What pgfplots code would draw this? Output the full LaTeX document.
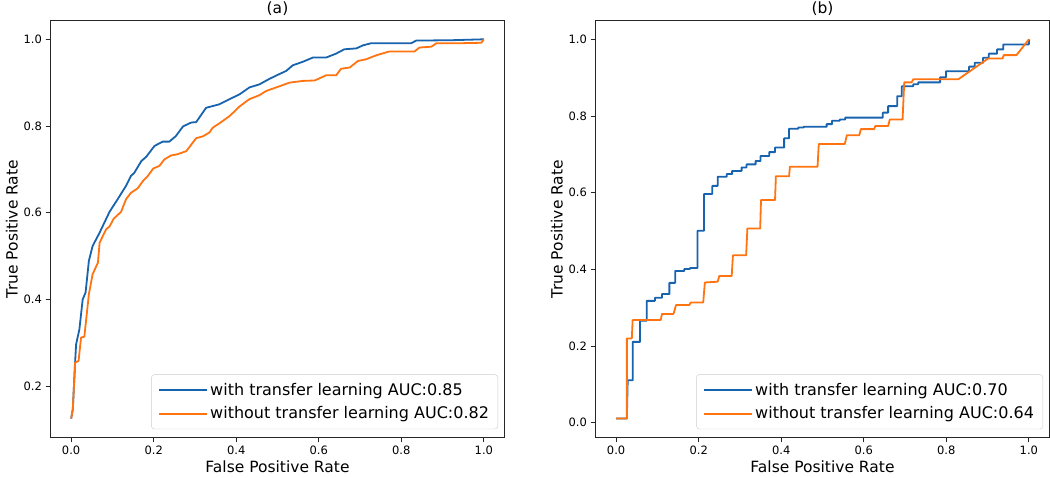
\documentclass[border=0pt]{standalone}
\usepackage{pgfplots}
\pgfplotsset{compat=1.18}
\usepackage{fontspec}
\setmainfont{DejaVu Sans}
\definecolor{mblue}{HTML}{1763AE}
\definecolor{morange}{HTML}{FF7410}
\pgfplotsset{
  rocaxis/.style={
    scale only axis, anchor=south west,
    width=454pt, height=417pt,
    xmin=-0.05, xmax=1.05,
    xtick={0,0.2,0.4,0.6,0.8,1.0},
    tick pos=left, tick align=outside,
    major tick length=5pt,
    major tick style={black!85, line width=0.9pt},
    axis line style={black!85, line width=0.9pt},
    /pgf/number format/assume math mode=true,
    /pgf/number format/.cd, fixed, fixed zerofill, precision=1, /pgfplots/.cd,
    tick label style={font=\fontsize{11.5}{13}\selectfont},
    label style={font=\fontsize{15.5}{18}\selectfont},
    xlabel={False Positive Rate},
    ylabel={True Positive Rate},
    xlabel style={yshift=1pt},
    ylabel style={yshift=-1pt},
    title style={font=\fontsize{15.5}{18}\selectfont, at={(0.5,1)}, anchor=south, yshift=-3.5pt, inner sep=2pt},
    legend cell align=left,
    legend image code/.code={\draw[##1, line width=1.8pt, line cap=butt] (0pt,0pt) -- (38pt,0pt); \path (0pt,0pt) -- (48pt,0pt);},
    legend style={font=\fontsize{16}{19}\selectfont, draw=black!20, rounded corners=3pt,
      at={(0.986,0.02)}, anchor=south east, inner xsep=7pt, inner ysep=6.5pt, row sep=6pt},
  }
}
\begin{document}
\begin{tikzpicture}
\useasboundingbox (0,0) rectangle (1050pt,478pt);
\begin{axis}[rocaxis, at={(50.5pt,40.5pt)},
  ymin=0.0814, ymax=1.0434, ytick={0.2,0.4,0.6,0.8,1.0}, title={(a)}]
\addplot[draw=mblue, line width=1.8pt, line join=round] coordinates {
(0,0.125)(0.004,0.146)(0.0097,0.256)(0.012,0.296)(0.020,0.331)(0.028,0.40)(0.035,0.416)
(0.043,0.489)(0.052,0.523)(0.069,0.554)(0.081,0.578)(0.093,0.602)(0.110,0.627)(0.133,0.662)
(0.145,0.685)(0.153,0.692)(0.170,0.719)(0.182,0.729)(0.202,0.754)(0.222,0.764)(0.238,0.764)
(0.254,0.777)(0.271,0.799)(0.291,0.808)(0.303,0.809)(0.327,0.842)(0.339,0.845)(0.359,0.850)
(0.384,0.862)(0.408,0.873)(0.432,0.889)(0.456,0.896)(0.481,0.909)(0.505,0.920)(0.521,0.927)
(0.537,0.940)(0.561,0.948)(0.586,0.958)(0.618,0.958)(0.642,0.967)(0.662,0.977)(0.691,0.979)
(0.707,0.986)(0.727,0.991)(0.824,0.991)(0.836,0.997)(0.925,0.998)(1.0,1.0)
};
\addlegendentry{with transfer learning AUC:0.85}
\addplot[draw=morange, line width=1.8pt, line join=round] coordinates {
(0,0.125)(0.004,0.146)(0.0097,0.254)(0.018,0.258)(0.024,0.312)(0.032,0.314)(0.043,0.412)
(0.052,0.458)(0.065,0.485)(0.069,0.531)(0.085,0.562)(0.093,0.568)(0.103,0.586)(0.121,0.602)
(0.133,0.631)(0.145,0.646)(0.161,0.656)(0.174,0.673)(0.186,0.685)(0.199,0.702)(0.214,0.708)
(0.226,0.723)(0.242,0.732)(0.258,0.735)(0.279,0.742)(0.303,0.772)(0.319,0.776)(0.335,0.785)
(0.343,0.796)(0.359,0.806)(0.384,0.823)(0.408,0.845)(0.432,0.862)(0.456,0.871)(0.473,0.881)
(0.497,0.889)(0.529,0.900)(0.561,0.904)(0.590,0.905)(0.618,0.917)(0.642,0.917)(0.654,0.932)
(0.675,0.935)(0.695,0.950)(0.715,0.954)(0.739,0.963)(0.771,0.972)(0.832,0.972)(0.844,0.981)
(0.873,0.983)(0.885,0.991)(0.945,0.991)(0.994,0.992)(1.0,1.0)
};
\addlegendentry{without transfer learning AUC:0.82}
\end{axis}
\begin{axis}[rocaxis, at={(595.5pt,40.5pt)},
  ymin=-0.0384, ymax=1.0494, ytick={0,0.2,0.4,0.6,0.8,1.0}, title={(b)}]
\addplot[draw=mblue, line width=1.8pt, line join=round] coordinates {
(0,0.011)(0.026,0.011)(0.028,0.111)(0.040,0.111)(0.040,0.211)(0.058,0.211)(0.058,0.266)
(0.074,0.266)(0.074,0.318)(0.094,0.318)(0.094,0.326)(0.111,0.326)(0.111,0.336)(0.129,0.336)
(0.129,0.365)(0.143,0.365)(0.143,0.396)(0.165,0.396)(0.165,0.401)(0.179,0.401)(0.179,0.404)
(0.197,0.404)(0.197,0.501)(0.213,0.501)(0.213,0.597)(0.233,0.597)(0.233,0.618)(0.246,0.618)
(0.246,0.642)(0.268,0.642)(0.268,0.649)(0.281,0.649)(0.281,0.657)(0.304,0.657)(0.304,0.666)
(0.316,0.666)(0.316,0.674)(0.338,0.674)(0.338,0.683)(0.350,0.683)(0.350,0.696)(0.371,0.696)
(0.371,0.706)(0.385,0.706)(0.385,0.718)(0.407,0.718)(0.407,0.742)(0.419,0.742)(0.419,0.767)
(0.441,0.767)(0.441,0.770)(0.454,0.770)(0.454,0.772)(0.510,0.772)(0.510,0.779)(0.523,0.779)
(0.523,0.788)(0.542,0.788)(0.542,0.791)(0.555,0.791)(0.555,0.796)(0.646,0.796)(0.646,0.809)
(0.659,0.809)(0.659,0.826)(0.681,0.826)(0.681,0.852)(0.692,0.852)(0.692,0.878)(0.720,0.878)
(0.720,0.883)(0.732,0.883)(0.732,0.888)(0.785,0.888)(0.785,0.901)(0.799,0.901)(0.799,0.917)
(0.855,0.917)(0.855,0.929)(0.869,0.929)(0.869,0.939)(0.889,0.939)(0.889,0.952)(0.903,0.952)
(0.903,0.963)(0.923,0.963)(0.923,0.974)(0.938,0.974)(0.938,0.987)(1.0,0.987)(1.0,1.0)
};
\addlegendentry{with transfer learning AUC:0.70}
\addplot[draw=morange, line width=1.8pt, line join=round] coordinates {
(0,0.011)(0.026,0.011)(0.026,0.220)(0.038,0.220)(0.040,0.268)(0.108,0.268)(0.111,0.284)
(0.139,0.284)(0.145,0.307)(0.177,0.307)(0.181,0.314)(0.211,0.314)(0.215,0.366)(0.246,0.368)
(0.250,0.383)(0.280,0.383)(0.283,0.437)(0.315,0.437)(0.318,0.507)(0.349,0.507)(0.351,0.581)
(0.385,0.581)(0.387,0.643)(0.419,0.643)(0.421,0.668)(0.488,0.668)(0.491,0.727)(0.554,0.727)
(0.559,0.750)(0.589,0.750)(0.593,0.766)(0.625,0.766)(0.628,0.774)(0.659,0.774)(0.663,0.791)
(0.694,0.791)(0.698,0.888)(0.716,0.888)(0.720,0.896)(0.829,0.896)(0.901,0.950)(0.936,0.950)
(0.939,0.959)(0.970,0.959)(1.0,1.0)
};
\addlegendentry{without transfer learning AUC:0.64}
\end{axis}
\end{tikzpicture}
\end{document}
